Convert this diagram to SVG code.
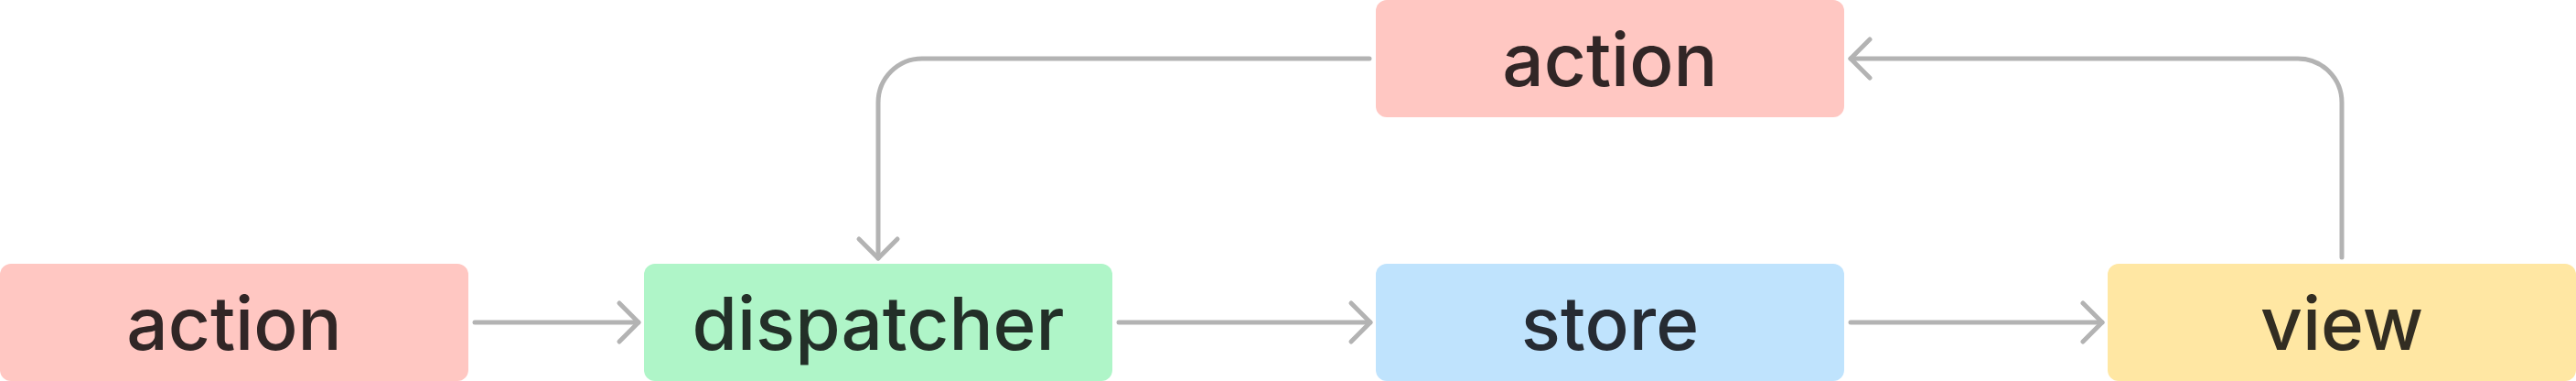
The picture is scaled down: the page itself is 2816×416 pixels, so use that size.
<svg xmlns="http://www.w3.org/2000/svg" width="2816" height="416" viewBox="0 0 2816 416">
  <style>
    .box{stroke:none}
    .lbl{font-family:Inter,"Noto Sans","Liberation Sans",sans-serif;font-size:80px;font-weight:500;text-anchor:middle}
    .conn{fill:none;stroke:#b3b3b3;stroke-width:5;stroke-linecap:round;stroke-linejoin:round}
  </style>
  <defs>
    <marker id="chev" markerUnits="userSpaceOnUse" orient="auto" markerWidth="60" markerHeight="60" refX="0" refY="0" viewBox="-30 -30 60 60" overflow="visible">
      <path d="M-21,-21 L0,0 L-21,21" fill="none" stroke="#b3b3b3" stroke-width="5" stroke-linecap="round" stroke-linejoin="round"/>
    </marker>
  </defs>
  <rect width="2816" height="416" fill="#ffffff"/>
  <g id="connectors">
    <path class="conn" d="M519,352 L698,352" marker-end="url(#chev)"/>
    <path class="conn" d="M1223,352 L1498,352" marker-end="url(#chev)"/>
    <path class="conn" d="M2023,352 L2298,352" marker-end="url(#chev)"/>
    <path class="conn" d="M1497,64 L1008,64 A48,48 0 0 0 960,112 L960,282" marker-end="url(#chev)"/>
    <path class="conn" d="M2560,281 L2560,112 A48,48 0 0 0 2512,64 L2023,64" marker-end="url(#chev)"/>
  </g>
  <g id="action-1">
    <rect class="box" x="0" y="288" width="512" height="128" rx="12" fill="#ffc7c2"/>
    <text class="lbl" x="256" y="382" fill="#312626">action</text>
  </g>
  <g id="dispatcher">
    <rect class="box" x="704" y="288" width="512" height="128" rx="12" fill="#aff5c8"/>
    <text class="lbl" x="960" y="382" fill="#232f28">dispatcher</text>
  </g>
  <g id="store">
    <rect class="box" x="1504" y="288" width="512" height="128" rx="12" fill="#bfe3fd"/>
    <text class="lbl" x="1760" y="382" fill="#262b33">store</text>
  </g>
  <g id="view">
    <rect class="box" x="2304" y="288" width="512" height="128" rx="12" fill="#ffe7a3"/>
    <text class="lbl" x="2560" y="382" fill="#322d22">view</text>
  </g>
  <g id="action-2">
    <rect class="box" x="1504" y="0" width="512" height="128" rx="12" fill="#ffc7c2"/>
    <text class="lbl" x="1760" y="94" fill="#312626">action</text>
  </g>
</svg>
